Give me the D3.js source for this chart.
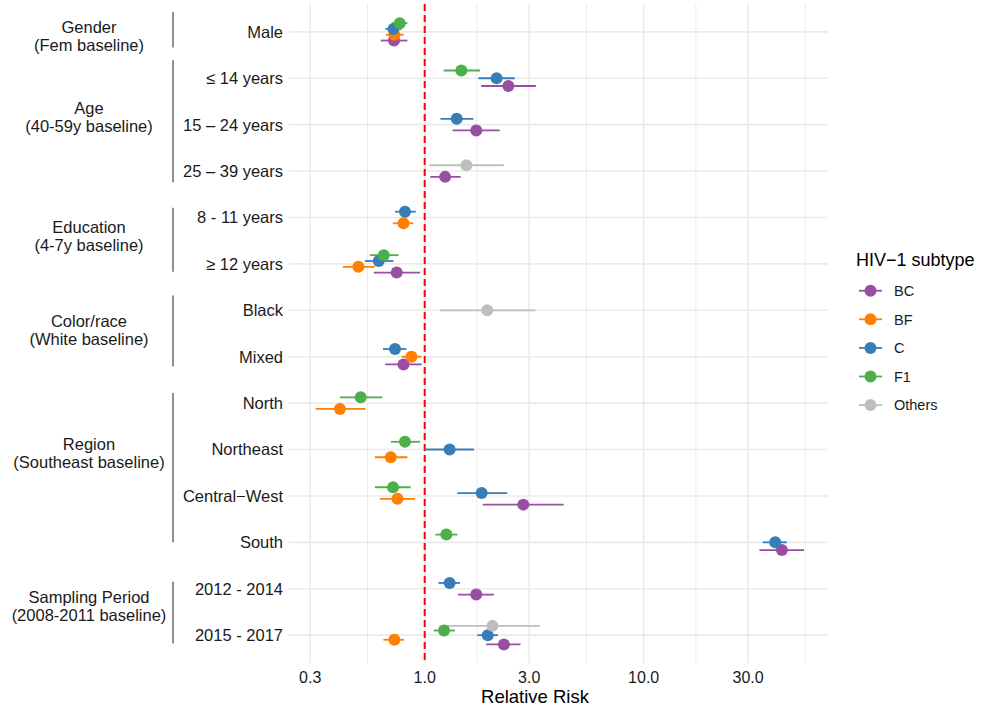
<!DOCTYPE html>
<html>
<head>
<meta charset="utf-8">
<script src="https://cdn.jsdelivr.net/npm/d3@7"></script>
<style>
  body { margin: 0; background: #fff; }
  svg { font-family: "Liberation Sans", Arial, Helvetica, sans-serif; }
</style>
</head>
<body>
<div id="forest"></div>
<script>
// risk factor rows, top to bottom
const rows = ["Male", "\u2264 14 years", "15 \u2013 24 years", "25 \u2013 39 years",
  "8 - 11 years", "\u2265 12 years", "Black", "Mixed",
  "North", "Northeast", "Central\u2212West", "South",
  "2012 - 2014", "2015 - 2017"];

const subtypes = ["BC", "BF", "C", "F1", "Others"];
const subtypeColors = ["#984EA3", "#FF7F00", "#377EB8", "#4DAF4A", "#BEBEBE"];

// relative risk + 95% CI per subtype, one value per row (null = not estimated)
const bcRR = [0.724, 2.41, 1.72, 1.24, null, 0.745, null, 0.80, null, null, 2.82, 42.8, 1.72, 2.30];
const bcLo = [0.63, 1.81, 1.34, 1.06, null, 0.585, null, 0.66, null, null, 1.84, 33.8, 1.42, 1.91];
const bcHi = [0.834, 3.22, 2.20, 1.46, null, 0.952, null, 0.969, null, null, 4.31, 54.0, 2.07, 2.74];

const bfRR = [0.727, null, null, null, 0.80, 0.498, null, 0.87, 0.41, 0.70, 0.751, null, null, 0.727];
const bfLo = [0.664, null, null, null, 0.715, 0.423, null, 0.785, 0.318, 0.592, 0.623, null, null, 0.648];
const bfHi = [0.80, null, null, null, 0.888, 0.592, null, 0.966, 0.536, 0.834, 0.903, null, null, 0.804];

const cRR = [0.72, 2.13, 1.40, null, 0.813, 0.617, null, 0.732, null, 1.30, 1.82, 39.9, 1.30, 1.94];
const cLo = [0.66, 1.76, 1.18, null, 0.732, 0.533, null, 0.645, null, 1.01, 1.41, 35.0, 1.155, 1.74];
const cHi = [0.785, 2.58, 1.67, null, 0.910, 0.72, null, 0.825, null, 1.68, 2.38, 45.1, 1.45, 2.16];

const f1RR = [0.769, 1.47, null, null, null, 0.65, null, null, 0.51, 0.813, 0.717, 1.256, null, 1.225];
const f1Lo = [0.707, 1.22, null, null, null, 0.561, null, null, 0.41, 0.70, 0.593, 1.12, null, 1.10];
const f1Hi = [0.834, 1.79, null, null, null, 0.759, null, null, 0.641, 0.952, 0.863, 1.41, null, 1.375];

const othRR = [null, null, null, 1.55, null, null, 1.93, null, null, null, null, null, null, 2.04];
const othLo = [null, null, null, 1.05, null, null, 1.17, null, null, null, null, null, null, 1.23];
const othHi = [null, null, null, 2.30, null, null, 3.20, null, null, null, null, null, null, 3.36];

const xTicks = [0.3, 1, 3, 10, 30];

// variable groups drawn at the left (row units, like annotate())
const groupNames = ["Gender", "Age", "Education", "Color/race", "Region", "Sampling Period"];
const groupBaselines = ["(Fem baseline)", "(40-59y baseline)", "(4-7y baseline)",
  "(White baseline)", "(Southeast baseline)", "(2008-2011 baseline)"];
const groupLabelAt = [0.09, 1.83, 4.41, 6.43, 9.08, 12.37];
const groupFrom = [-0.43, 0.61, 3.79, 5.68, 7.78, 11.85];
const groupTo = [0.34, 3.24, 5.17, 7.21, 11.0, 13.18];

const series = [
  [bcRR, bcLo, bcHi], [bfRR, bfLo, bfHi], [cRR, cLo, cHi], [f1RR, f1Lo, f1Hi], [othRR, othLo, othHi]
];

// long table: one record per estimate
const estimates = [];
series.forEach((s, k) => {
  rows.forEach((r, i) => {
    if (s[0][i] == null) return;
    estimates.push({ row: i, subtype: subtypes[k], rr: s[0][i], lo: s[1][i], hi: s[2][i] });
  });
});

// dodge like position_dodge(0.5): first subtype ends up at the bottom
const dodgeWidth = 0.5;
d3.group(estimates, d => d.row).forEach(list => {
  const n = list.length;
  list.sort((a, b) => subtypes.indexOf(a.subtype) - subtypes.indexOf(b.subtype));
  list.forEach((d, k) => { d.offset = ((n - 1) / 2 - k) * dodgeWidth / n; });
});

const width = 981, height = 710;
const panel = { left: 289, right: 828, top: 4, bottom: 663 };

const svg = d3.select("div#forest")
  .append("svg")
  .attr("width", width)
  .attr("height", height);

const x = d3.scaleLog()
  .domain([0.24, 69.5])
  .range([panel.left, panel.right]);

const y = d3.scaleLinear()
  .domain([-0.6, rows.length - 1 + 0.6])
  .range([panel.top, panel.bottom]);

const color = d3.scaleOrdinal().domain(subtypes).range(subtypeColors);

// minor breaks halfway (in log space) between the major ones
const minorTicks = [Math.sqrt(0.3 * 0.3 / 3.3333)].concat(
  d3.range(xTicks.length).map(i => {
    const next = i < xTicks.length - 1 ? xTicks[i + 1] : xTicks[i] * 10 / 3;
    return Math.sqrt(xTicks[i] * next);
  }))
  .filter(v => x(v) >= panel.left && x(v) <= panel.right);

const grid = svg.append("g");

grid.selectAll("line.minor")
  .data(minorTicks)
  .join("line")
  .attr("class", "minor")
  .attr("x1", d => x(d)).attr("x2", d => x(d))
  .attr("y1", panel.top).attr("y2", panel.bottom)
  .attr("stroke", "#EBEBEB")
  .attr("stroke-width", 1);

grid.selectAll("line.vmajor")
  .data(xTicks)
  .join("line")
  .attr("class", "vmajor")
  .attr("x1", d => x(d)).attr("x2", d => x(d))
  .attr("y1", panel.top).attr("y2", panel.bottom)
  .attr("stroke", "#EBEBEB")
  .attr("stroke-width", 1.6);

grid.selectAll("line.hmajor")
  .data(rows)
  .join("line")
  .attr("class", "hmajor")
  .attr("x1", panel.left).attr("x2", panel.right)
  .attr("y1", (d, i) => y(i)).attr("y2", (d, i) => y(i))
  .attr("stroke", "#EBEBEB")
  .attr("stroke-width", 1.6);

// null effect line
svg.append("line")
  .attr("x1", x(1)).attr("x2", x(1))
  .attr("y1", panel.top).attr("y2", panel.bottom)
  .attr("stroke", "#FF0000")
  .attr("stroke-width", 2)
  .attr("stroke-dasharray", "7,4");

// error bars then points
const marks = svg.append("g");

marks.selectAll("line.ci")
  .data(estimates)
  .join("line")
  .attr("class", "ci")
  .attr("x1", d => x(d.lo)).attr("x2", d => x(d.hi))
  .attr("y1", d => y(d.row + d.offset)).attr("y2", d => y(d.row + d.offset))
  .attr("stroke", d => color(d.subtype))
  .attr("stroke-width", 1.8);

marks.selectAll("circle")
  .data(estimates)
  .join("circle")
  .attr("cx", d => x(d.rr))
  .attr("cy", d => y(d.row + d.offset))
  .attr("r", 6)
  .attr("fill", d => color(d.subtype));

// x axis labels
svg.append("g")
  .selectAll("text")
  .data(xTicks)
  .join("text")
  .attr("x", d => x(d))
  .attr("y", 683)
  .attr("text-anchor", "middle")
  .style("font-size", "16px")
  .attr("fill", "#1a1a1a")
  .text(d => d3.format(".1f")(d));

svg.append("text")
  .attr("x", 535)
  .attr("y", 703)
  .attr("text-anchor", "middle")
  .style("font-size", "18.5px")
  .attr("fill", "#000")
  .text("Relative Risk");

// y axis labels
svg.append("g")
  .selectAll("text")
  .data(rows)
  .join("text")
  .attr("x", 283)
  .attr("y", (d, i) => y(i))
  .attr("dy", "0.36em")
  .attr("text-anchor", "end")
  .style("font-size", "16.5px")
  .attr("fill", "#1a1a1a")
  .text(d => d);

// group brackets and labels
const groups = svg.append("g");

groups.selectAll("line")
  .data(groupNames)
  .join("line")
  .attr("x1", 173).attr("x2", 173)
  .attr("y1", (d, i) => y(groupFrom[i]))
  .attr("y2", (d, i) => y(groupTo[i]))
  .attr("stroke", "#555")
  .attr("stroke-width", 1.3);

const glabel = groups.selectAll("text")
  .data(groupNames)
  .join("text")
  .attr("text-anchor", "middle")
  .style("font-size", "16.5px")
  .attr("fill", "#1a1a1a");

glabel.append("tspan")
  .attr("x", 89)
  .attr("y", (d, i) => y(groupLabelAt[i]) - 9)
  .attr("dy", "0.36em")
  .text(d => d);

glabel.append("tspan")
  .attr("x", 89)
  .attr("y", (d, i) => y(groupLabelAt[i]) + 9)
  .attr("dy", "0.36em")
  .text((d, i) => groupBaselines[i]);

// legend
const legend = svg.append("g");

legend.append("text")
  .attr("x", 856)
  .attr("y", 266)
  .style("font-size", "18px")
  .attr("fill", "#000")
  .text("HIV\u22121 subtype");

const item = legend.selectAll("g.item")
  .data(subtypes)
  .join("g")
  .attr("class", "item")
  .attr("transform", (d, i) => `translate(0,${290.7 + i * 28.6})`);

item.append("line")
  .attr("x1", 859).attr("x2", 882)
  .attr("stroke", d => color(d))
  .attr("stroke-width", 1.8);

item.append("circle")
  .attr("cx", 870.5)
  .attr("r", 6)
  .attr("fill", d => color(d));

item.append("text")
  .attr("x", 894)
  .attr("dy", "0.36em")
  .style("font-size", "14.5px")
  .attr("fill", "#1a1a1a")
  .text(d => d);
</script>
</body>
</html>
